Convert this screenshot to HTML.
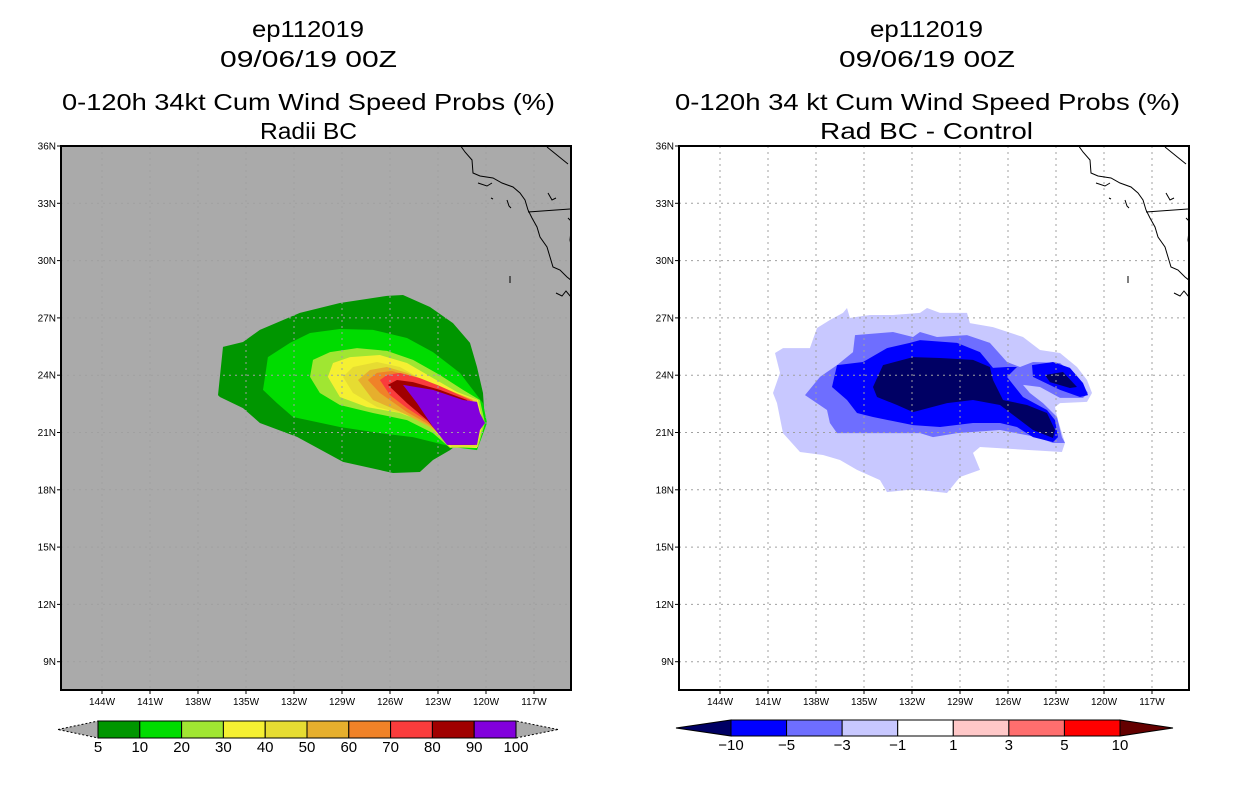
<!DOCTYPE html>
<html><head><meta charset="utf-8"><style>
html,body{margin:0;padding:0;background:#fff;}
svg{display:block;}
text{font-family:"Liberation Sans",sans-serif;}
</style></head><body>
<svg id="fig" width="1236" height="800" viewBox="0 0 1236 800" xmlns="http://www.w3.org/2000/svg">
<rect width="1236" height="800" fill="#fff"/>
<g font-size="23" text-anchor="start">
<text x="252" y="37" textLength="112" lengthAdjust="spacingAndGlyphs">ep112019</text>
<text x="220" y="67" textLength="177" lengthAdjust="spacingAndGlyphs">09/06/19 00Z</text>
<text x="62" y="110" textLength="493" lengthAdjust="spacingAndGlyphs">0-120h 34kt Cum Wind Speed Probs (%)</text>
<text x="260" y="139" textLength="97" lengthAdjust="spacingAndGlyphs">Radii BC</text>
</g>
<g font-size="23">
<text x="870" y="37" textLength="113" lengthAdjust="spacingAndGlyphs">ep112019</text>
<text x="839" y="67" textLength="176" lengthAdjust="spacingAndGlyphs">09/06/19 00Z</text>
<text x="675" y="110" textLength="505" lengthAdjust="spacingAndGlyphs">0-120h 34 kt Cum Wind Speed Probs (%)</text>
<text x="820" y="139" textLength="213" lengthAdjust="spacingAndGlyphs">Rad BC - Control</text>
</g>
<g id="left"></g>
<g id="right"></g>
<g id="cbars"></g>
</svg>
<script>
const NS="http://www.w3.org/2000/svg";
// axis data
const latTicks=[36,33,30,27,24,21,18,15,12,9];
const lonTicks=[144,141,138,135,132,129,126,123,120,117];
// left colorbar
const probLevels=[5,10,20,30,40,50,60,70,80,90,100];
const probColors=["#009600","#00dc00","#a0e632","#f5f032","#e6dc32","#e6af2d","#f08228","#fa3c3c","#a00000","#8200dc"];
// right colorbar
const diffLevels=[-10,-5,-3,-1,1,3,5,10];
const diffColors=["#000064","#0000ff","#6e6eff","#c8c8ff","#ffffff","#ffc8c8","#ff6e6e","#ff0000","#640000"];
// left contours (lonW, latN)
const prob5=[[136.75,22.96],[136.44,25.48],[135.19,25.74],[134.13,26.37],[131.63,27.26],[129.13,27.78],[126.19,28.15],[125.19,28.2],[123.5,27.57],[122.06,26.73],[121,25.69],[120.56,24.43],[120.19,23.07],[120.06,21.5],[122.25,20.08],[123.31,19.56],[124.13,18.93],[125.81,18.88],[128.94,19.46],[131.81,20.77],[134.13,21.5],[135.19,22.28],[136.63,22.86]];
const prob10=[[133.81,23.91],[133.63,24.95],[132.25,25.69],[131,26.21],[129.13,26.42],[127.06,26.37],[124.94,25.95],[123.31,25.21],[121.63,24.12],[120.19,22.54],[119.94,21.5],[120.56,20.08],[122.06,20.24],[124.56,20.76],[126.63,20.97],[129.13,21.29],[132.06,21.81],[133.06,22.54],[133.94,23.23]];
const prob20=[[131,23.91],[130.81,24.8],[129.75,25.21],[128.06,25.42],[126.19,25.27],[124.56,24.8],[122.88,24.01],[121.44,23.23],[120.38,22.7],[120.06,21.5],[120.5,20.24],[122.25,20.19],[123.31,20.97],[124.94,21.65],[127.06,22.02],[129.13,22.44],[130.38,23.07]];
const prob30=[[129.88,23.91],[129.56,24.64],[128.5,24.95],[126.63,25.06],[124.94,24.64],[123.31,23.85],[121.81,23.12],[120.5,22.7],[120.19,21.5],[120.56,20.19],[122.25,20.24],[123.69,21.5],[125.38,22.02],[127.44,22.33],[129.13,22.86]];
const prob40=[[128.94,23.91],[128.31,24.43],[126.81,24.69],[125.38,24.43],[123.94,23.75],[122.44,23.23],[120.56,22.7],[120.25,21.5],[120.56,20.24],[122.13,20.24],[123.5,21.29],[124.94,21.92],[126.81,22.33],[128.31,23.07]];
const prob50=[[128,23.75],[127.25,24.27],[126.19,24.43],[124.94,24.12],[123.5,23.59],[120.81,22.7],[120.38,21.5],[120.69,20.35],[122.06,20.35],[123.5,21.29],[125.19,22.02],[127.06,22.7]];
const prob60=[[127.38,23.75],[126.81,24.12],[125.88,24.22],[124.56,23.91],[123.06,23.49],[120.88,22.7],[120.5,21.5],[120.81,20.35],[122.06,20.35],[123.5,21.39],[124.94,22.07],[126.63,23.07]];
const prob70=[[126.63,23.75],[126.19,24.01],[125.38,24.12],[124.13,23.85],[122.88,23.43],[121,22.7],[120.5,21.5],[120.81,20.35],[122.25,20.35],[123.5,21.5],[124.94,22.28],[126,22.96]];
const prob80=[[126.13,23.49],[125.56,23.75],[124.56,23.64],[122.88,23.23],[121.19,22.7],[120.56,21.5],[120.69,20.35],[122.38,20.35],[123.69,21.65],[124.94,22.54]];
const prob90=[[125.19,23.49],[123.31,23.23],[121.44,22.7],[120.56,22.6],[120.38,22.02],[120.06,21.5],[120.38,21.13],[120.56,20.35],[122.44,20.35],[123.31,21.29],[124.31,22.54]];
// right contours
const diff1=[[140.56,25.16],[140.06,25.42],[138.38,25.42],[137.94,26.47],[137.13,26.89],[136.31,27.26],[136.06,27.52],[135.88,27],[134.63,27.15],[133.19,27.15],[131.5,27.26],[131.06,27.52],[130.25,27.26],[128.56,27.26],[128.38,26.73],[126.94,26.52],[125.06,26],[124,25.32],[122.75,25.16],[121.69,24.43],[121.06,23.75],[120.75,23.07],[121.06,22.6],[122.75,22.54],[123.06,22.33],[122.88,21.65],[122.44,20.45],[122.63,19.98],[127.75,20.24],[128.19,19.93],[127.75,19.04],[129,18.67],[129.81,17.83],[131.5,17.99],[132.31,17.99],[133.56,17.88],[134,18.51],[135.44,19.04],[136.5,19.56],[137.56,19.82],[139,19.98],[140.06,20.97],[140.44,22.54],[140.69,23.07],[140.25,24.12]];
const diff3=[[138.69,22.96],[137.75,23.91],[136.69,24.53],[135.69,25.21],[135.56,26.1],[133.19,26.26],[131.94,26],[131.5,26.26],[130.44,26],[128.56,26.1],[127.13,25.69],[126.06,24.69],[125.25,24.43],[124.44,24.69],[122.75,24.64],[121.69,23.91],[121,23.07],[121.31,22.81],[122.75,22.81],[124,23.38],[125.06,23.49],[124.63,23.07],[123.81,22.54],[122.94,21.81],[122.63,20.76],[122.44,20.45],[123.19,20.45],[124.19,20.76],[126.5,21.13],[129.19,20.97],[130.69,20.76],[131.5,20.97],[134.44,20.97],[136.69,20.97],[137.13,21.5],[137.31,22.18]];
const diff5=[[137,23.38],[136.69,24.53],[135.06,24.69],[133.56,25.42],[132.13,25.69],[131.5,25.84],[129.19,25.69],[127.75,25.21],[126.94,24.38],[126.06,24.43],[125.44,24.43],[126.06,23.91],[125.06,22.86],[123.56,22.18],[123.06,21.65],[122.88,20.76],[123.19,20.5],[124.44,20.76],[125.44,21.29],[126.5,21.5],[128.19,21.5],[130.25,21.29],[131.94,21.39],[134.44,21.81],[135.44,22.02],[136.06,22.7]];
const diff5East=[[124.5,24.53],[123.19,24.69],[122.13,24.38],[121.31,23.59],[121,22.96],[121.5,22.86],[122.75,23.23],[124.44,23.91]];
const diff10=[[134.44,23.38],[133.81,24.53],[131.94,24.95],[130.25,24.9],[128.19,24.8],[127.13,24.43],[126.94,23.75],[126.31,22.7],[124.81,22.44],[123.56,22.02],[123.06,21.13],[123.19,20.71],[124.44,21.13],[125.69,21.92],[126.5,22.44],[128.19,22.7],[129.81,22.54],[131.94,22.07],[132.94,22.44],[134.19,22.86]];
const diff10East=[[123.69,24.01],[122.56,24.17],[121.69,23.38],[122.13,23.33],[123.38,23.64]];

const PY0=146,PY1=690,PW=510;
function xOf(x0,lonW){return x0+41+(144-lonW)*16;}
function yOf(lat){return PY0+(36-lat)*19.1;}
function el(parent,tag,attrs){const e=document.createElementNS(NS,tag);for(const k in attrs)e.setAttribute(k,attrs[k]);parent.appendChild(e);return e;}
function poly(g,x0,pts,fill,name){
  const p=el(g,'polygon',{points:pts.map(q=>xOf(x0,q[0]).toFixed(1)+','+yOf(q[1]).toFixed(1)).join(' '),fill:fill});
  
  
}
function panel(gid,x0,bg,layers){
  const g=document.getElementById(gid);
  const cp=el(g,'clipPath',{id:gid+'clip'});el(cp,'rect',{x:x0,y:PY0,width:PW,height:PY1-PY0});
  const bgr=el(g,'rect',{x:x0,y:PY0,width:PW,height:PY1-PY0,fill:bg});
  
  
  const inner=el(g,'g',{'clip-path':'url(#'+gid+'clip)'});
  layers.forEach(L=>poly(inner,x0,L[0],L[1],L[2]));
  // grid
  lonTicks.forEach(l=>{const x=xOf(x0,l);const ln=el(inner,'line',{x1:x,x2:x,y1:PY0,y2:PY1,stroke:'#a0a0a0','stroke-width':1,'stroke-dasharray':'2,4'});
    
    });
  latTicks.forEach(l=>{const y=yOf(l);const ln=el(inner,'line',{x1:x0,x2:x0+PW,y1:y,y2:y,stroke:'#a0a0a0','stroke-width':1,'stroke-dasharray':'2,4'});
    
    });
  // coastline (drawn relative to panel)
  const c=el(inner,'g',{transform:'translate('+(x0-61)+',0)',fill:'none',stroke:'#000','stroke-width':1});
  
  
  el(c,'polyline',{points:'460,145 465,152 472,160 473,173 480,176 493,178 502,183 513,187 520,193 525,200 528,210 532,218 537,227 540,237 547,247 550,257 553,267 560,270 567,277 572,281'});
  el(c,'polyline',{points:'528,212 570,209'});
  el(c,'polyline',{points:'547,147 568,164'});
  el(c,'polyline',{points:'568,218 572,222 570,240 572,250'});
  el(c,'polyline',{points:'478,183 487,186 492,183'});
  el(c,'polyline',{points:'548,193 552,200 556,198'});
  el(c,'polyline',{points:'556,293 562,296 566,291 571,297'});
  el(c,'polyline',{points:'507,200 509,206 511,208'});
  el(c,'polyline',{points:'510,276 510,283'});
  el(c,'polyline',{points:'491,198 493,199'});
  // frame
  const fr=el(g,'rect',{x:x0,y:PY0,width:PW,height:PY1-PY0,fill:'none',stroke:'#000','stroke-width':2});
  
  
  // tick labels
  latTicks.forEach(l=>{const y=yOf(l);
    el(g,'line',{x1:x0-4,x2:x0,y1:y,y2:y,stroke:'#000','stroke-width':1});
    const t=el(g,'text',{x:x0-5,y:y+3.5,'font-size':10,'text-anchor':'end'});t.textContent=l+'N';
    
    });
  lonTicks.forEach(l=>{const x=xOf(x0,l);
    el(g,'line',{x1:x,x2:x,y1:PY1,y2:PY1+4,stroke:'#000','stroke-width':1});
    const t=el(g,'text',{x:x,y:PY1+15,'font-size':10,'text-anchor':'middle'});t.textContent=l+'W';
    
    });
}
panel('left',61,'#aaaaaa',[[prob5,probColors[0],'contour-5'],[prob10,probColors[1],'contour-10'],[prob20,probColors[2],'contour-20'],[prob30,probColors[3],'contour-30'],[prob40,probColors[4],'contour-40'],[prob50,probColors[5],'contour-50'],[prob60,probColors[6],'contour-60'],[prob70,probColors[7],'contour-70'],[prob80,probColors[8],'contour-80'],[prob90,probColors[9],'contour-90']]);
panel('right',679,'#ffffff',[[diff1,diffColors[3],'contour-minus-1'],[diff3,diffColors[2],'contour-minus-3'],[diff5,diffColors[1],'contour-minus-5'],[diff5East,diffColors[1],'contour-minus-5-east'],[diff10,diffColors[0],'contour-minus-10'],[diff10East,diffColors[0],'contour-minus-10-east']]);

// colorbars
function cbar(x0,x1,tipL,tipR,y0,y1,levels,colors,withEnds,name,tipFill){
  const g=document.getElementById('cbars');
  const cg=el(g,'g',{});
  
  
  const n=withEnds?colors.length-2:colors.length;
  const w=(x1-x0)/n, ym=(y0+y1)/2;
  const lf=withEnds?colors[0]:tipFill, rf=withEnds?colors[colors.length-1]:tipFill;
  el(cg,'polygon',{points:tipL+','+ym+' '+x0+','+y0+' '+x0+','+y1,fill:lf,stroke:'#000','stroke-width':1,'stroke-dasharray':withEnds?'none':'2,2'});
  el(cg,'polygon',{points:tipR+','+ym+' '+x1+','+y0+' '+x1+','+y1,fill:rf,stroke:'#000','stroke-width':1,'stroke-dasharray':withEnds?'none':'2,2'});
  for(let i=0;i<n;i++){
    const r=el(cg,'rect',{x:x0+i*w,y:y0,width:w,height:y1-y0,fill:colors[withEnds?i+1:i],stroke:'#000','stroke-width':1});
    
    
  }
  levels.forEach((v,i)=>{
    const x=withEnds?x0+i*w:x0+i*w;
    const t=el(cg,'text',{x:x,y:y1+14,'font-size':15,'text-anchor':'middle'});
    t.textContent=(v<0?'\u2212'+(-v):v);
    
    
  });
}
cbar(98,516,58,558,721,738,probLevels,probColors,false,'prob-colorbar','#aaaaaa');
cbar(731,1120,676,1173,720,736,diffLevels,diffColors,true,'diff-colorbar');
</script>
</body></html>
